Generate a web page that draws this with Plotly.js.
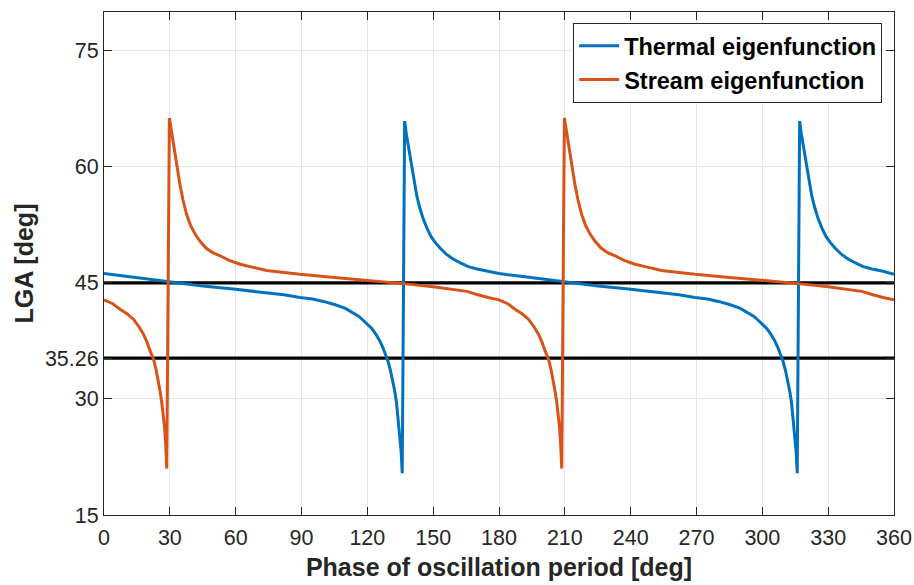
<!DOCTYPE html>
<html>
<head>
<meta charset="utf-8">
<script src="https://cdn.plot.ly/plotly-3.0.1.min.js"></script>
<style>html,body{margin:0;padding:0;background:#fff;}#chart{width:914px;height:585px;}</style>
</head>
<body>
<div id="chart"></div>
<script>
// Thermal eigenfunction (blue)
const thermalPhase = [0, 10, 20, 29.3, 45, 59, 75, 82, 89.3, 95, 100, 105, 110, 113, 116, 118, 120, 122, 124, 125.5, 127, 128.3, 129.5, 130.6, 131.6, 132.5, 133.3, 134.1, 134.8, 135.4, 135.9,
  137, 137.8, 138.6, 139.4, 140.3, 141.3, 142.5, 143.8, 145.3, 147.1, 149, 151, 153.1, 156, 159, 162.2, 166, 170, 175,
  180, 190, 200, 209.3, 225, 239, 255, 262, 269.3, 275, 280, 285, 290, 293, 296, 298, 300, 302, 304, 305.5, 307, 308.3, 309.5, 310.6, 311.6, 312.5, 313.3, 314.1, 314.8, 315.4, 315.9,
  317, 317.8, 318.6, 319.4, 320.3, 321.3, 322.5, 323.8, 325.3, 327.1, 329, 331, 333.1, 336, 339, 342.2, 346, 350, 355, 360];
const thermalLGA = [46.2, 45.85, 45.5, 45.1, 44.6, 44.2, 43.7, 43.45, 43.1, 42.9, 42.6, 42.2, 41.7, 41.25, 40.7, 40.2, 39.7, 39.1, 38.3, 37.6, 36.7, 35.8, 34.8, 33.6, 32.3, 31.0, 29.5, 27.4, 25.4, 23.2, 20.4,
  65.9, 64.2, 62.8, 61.6, 59.9, 58.2, 56.3, 54.8, 53.4, 52.1, 51.0, 50.2, 49.5, 48.7, 48.1, 47.6, 47.1, 46.8, 46.5,
  46.2, 45.85, 45.5, 45.1, 44.6, 44.2, 43.7, 43.45, 43.1, 42.9, 42.6, 42.2, 41.7, 41.25, 40.7, 40.2, 39.7, 39.1, 38.3, 37.6, 36.7, 35.8, 34.8, 33.6, 32.3, 31.0, 29.5, 27.4, 25.4, 23.2, 20.4,
  65.9, 64.2, 62.8, 61.6, 59.9, 58.2, 56.3, 54.8, 53.4, 52.1, 51.0, 50.2, 49.5, 48.7, 48.1, 47.6, 47.1, 46.8, 46.5, 46.1];

// Stream eigenfunction (orange)
const streamPhase = [0, 4, 7.3, 10.5, 13.4, 16, 17.9, 19.5, 21, 22.5, 23.7, 24.7, 25.5, 26.3, 27.0, 27.6, 28.1, 28.6,
  29.8, 30.6, 31.5, 32.4, 33.5, 34.6, 36, 37.7, 39.5, 41.5, 43.7, 46.5, 49.5, 52.9, 57, 62, 68, 74.1, 80, 89.3, 105, 119.7, 136.4, 150, 158, 165.3, 170, 175,
  180, 184, 187.3, 190.5, 193.4, 196, 197.9, 199.5, 201, 202.5, 203.7, 204.7, 205.5, 206.3, 207.0, 207.6, 208.1, 208.6,
  209.8, 210.6, 211.5, 212.4, 213.5, 214.6, 216, 217.7, 219.5, 221.5, 223.7, 226.5, 229.5, 232.9, 237, 242, 248, 254.1, 260, 269.3, 285, 299.7, 316.4, 330, 338, 345.3, 350, 355, 360];
const streamLGA = [42.8, 42.3, 41.6, 41.0, 40.3, 39.3, 38.4, 37.4, 36.2, 35.2, 33.8, 32.4, 31.1, 29.6, 28.1, 26.3, 24.2, 21.0,
  66.3, 64.8, 63.4, 62.0, 59.8, 57.7, 55.7, 53.8, 52.4, 51.3, 50.4, 49.5, 48.9, 48.5, 47.9, 47.4, 47.0, 46.6, 46.4, 46.1, 45.7, 45.35, 44.9, 44.5, 44.2, 43.9, 43.5, 43.1,
  42.8, 42.3, 41.6, 41.0, 40.3, 39.3, 38.4, 37.4, 36.2, 35.2, 33.8, 32.4, 31.1, 29.6, 28.1, 26.3, 24.2, 21.0,
  66.3, 64.8, 63.4, 62.0, 59.8, 57.7, 55.7, 53.8, 52.4, 51.3, 50.4, 49.5, 48.9, 48.5, 47.9, 47.4, 47.0, 46.6, 46.4, 46.1, 45.7, 45.35, 44.9, 44.5, 44.2, 43.9, 43.5, 43.1, 42.8];

// Reference levels
const refLevels = [45, 35.26];
const refPhase = [0, 360];

const xTicks = [0, 30, 60, 90, 120, 150, 180, 210, 240, 270, 300, 330, 360];
const yTicks = [15, 30, 35.26, 45, 60, 75];
const yTickText = ['15', '30', '35.26', '45', '60', '75'];

const FONT = 'Liberation Sans, Arial, Helvetica, sans-serif';

const traces = [];
refLevels.forEach(v => {
  traces.push({x: refPhase, y: [v, v], mode: 'lines', showlegend: false, hoverinfo: 'skip',
    line: {color: '#000000', width: 3.3}});
});
traces.push({x: thermalPhase, y: thermalLGA, mode: 'lines', name: 'Thermal eigenfunction',
  line: {color: '#0072BD', width: 3}});
traces.push({x: streamPhase, y: streamLGA, mode: 'lines', name: 'Stream eigenfunction',
  line: {color: '#D95319', width: 3}});

const axisCommon = {
  showline: true, linecolor: '#262626', linewidth: 1, mirror: 'ticks',
  ticks: 'inside', ticklen: 8, tickwidth: 1, tickcolor: '#262626',
  showgrid: true, gridcolor: '#e6e6e6', gridwidth: 1, zeroline: false,
  tickfont: {family: FONT, size: 21.5, color: '#262626'}
};

const layout = {
  width: 914, height: 585,
  margin: {l: 104, r: 20, t: 12, b: 70},
  paper_bgcolor: '#ffffff', plot_bgcolor: '#ffffff',
  showlegend: true,
  legend: {x: 0.985, y: 0.978, xanchor: 'right', yanchor: 'top',
    bgcolor: '#ffffff', bordercolor: '#262626', borderwidth: 1, itemwidth: 40,
    font: {family: FONT, size: 23.5, color: '#000000', weight: 'bold'}},
  xaxis: Object.assign({}, axisCommon, {
    range: [0, 360], tickvals: xTicks, ticktext: xTicks.map(String), ticklabelstandoff: 3,
    title: {text: '<b>Phase of oscillation period [deg]</b>', standoff: 9,
      font: {family: FONT, size: 25, color: '#262626'}}
  }),
  yaxis: Object.assign({}, axisCommon, {
    range: [15, 80], tickvals: yTicks, ticktext: yTickText,
    title: {text: '<b>LGA [deg]</b>', standoff: 4,
      font: {family: FONT, size: 25, color: '#262626'}}
  })
};

Plotly.newPlot('chart', traces, layout, {displayModeBar: false, staticPlot: true});
</script>
</body>
</html>
